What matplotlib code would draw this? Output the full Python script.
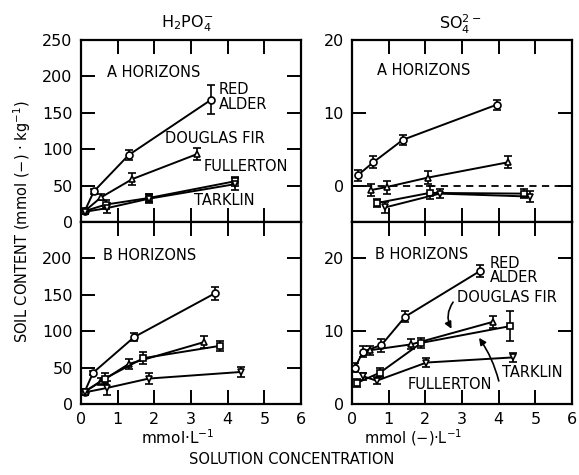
import matplotlib
matplotlib.use("Agg")
import matplotlib.pyplot as plt

# ---------------- data ----------------
series_names = ["RED ALDER", "DOUGLAS FIR", "FULLERTON", "TARKLIN"]
series_markers = ["o", "^", "s", "v"]

# H2PO4-, A horizons
pA_alder_x = [0.1, 0.35, 1.3, 3.55]
pA_alder_y = [15, 42, 92, 168]
pA_alder_e = [3, 3, 7, 20]
pA_fir_x = [0.1, 0.55, 1.4, 3.15]
pA_fir_y = [15, 34, 59, 93]
pA_fir_e = [3, 4, 8, 8]
pA_full_x = [0.1, 0.68, 1.85, 4.2]
pA_full_y = [15, 24, 33, 56]
pA_full_e = [3, 6, 6, 6]
pA_tark_x = [0.1, 0.7, 1.85, 4.2]
pA_tark_y = [14, 19, 32, 52]
pA_tark_e = [3, 7, 6, 8]

# H2PO4-, B horizons
pB_alder_x = [0.1, 0.33, 1.45, 3.65]
pB_alder_y = [17, 43, 92, 152]
pB_alder_e = [3, 3, 6, 9]
pB_fir_x = [0.1, 0.55, 1.3, 3.35]
pB_fir_y = [17, 31, 55, 85]
pB_fir_e = [3, 5, 7, 8]
pB_full_x = [0.1, 0.65, 1.7, 3.8]
pB_full_y = [17, 35, 63, 80]
pB_full_e = [3, 7, 8, 7]
pB_tark_x = [0.1, 0.7, 1.85, 4.35]
pB_tark_y = [16, 22, 35, 44]
pB_tark_e = [3, 10, 7, 7]

# SO4 2-, A horizons
sA_alder_x = [0.15, 0.58, 1.39, 3.94]
sA_alder_y = [1.4, 3.2, 6.3, 11.1]
sA_alder_e = [0.8, 0.8, 0.7, 0.7]
sA_fir_x = [0.53, 0.94, 2.07, 4.25]
sA_fir_y = [-0.6, -0.2, 1.1, 3.2]
sA_fir_e = [0.8, 0.9, 0.9, 0.8]
sA_full_x = [0.67, 2.12, 4.7]
sA_full_y = [-2.4, -1.0, -1.1]
sA_full_e = [0.6, 0.9, 0.6]
sA_tark_x = [0.9, 2.39, 4.84]
sA_tark_y = [-3.0, -1.1, -1.5]
sA_tark_e = [0.8, 0.6, 0.7]

# SO4 2-, B horizons
sB_alder_x = [0.08, 0.3, 0.8, 1.45, 3.5]
sB_alder_y = [5.0, 7.2, 8.1, 12.0, 18.3]
sB_alder_e = [0.6, 0.8, 0.9, 0.8, 0.8]
sB_fir_x = [0.5, 1.62, 3.85]
sB_fir_y = [7.4, 8.2, 11.3]
sB_fir_e = [0.6, 0.7, 0.8]
sB_full_x = [0.13, 0.76, 1.89, 4.31]
sB_full_y = [2.9, 4.3, 8.4, 10.7]
sB_full_e = [0.5, 0.6, 0.7, 2.1]
sB_tark_x = [0.31, 0.67, 2.03, 4.38]
sB_tark_y = [3.8, 3.2, 5.7, 6.4]
sB_tark_e = [0.5, 0.5, 0.6, 0.6]

x_ticks = [0, 1, 2, 3, 4, 5, 6]
p_ticks = [0, 50, 100, 150, 200, 250]
s_ticks = [0, 10, 20]

# ---------------- figure ----------------
plt.rcParams["font.family"] = ["DejaVu Sans"]
fig = plt.figure(figsize=(5.79, 4.75), dpi=100)

W = 0.38
H = 0.3832
ax_pA = fig.add_axes([0.1399, 0.5326, W, H])
ax_pB = fig.add_axes([0.1399, 0.1494, W, H])
ax_sA = fig.add_axes([0.6080, 0.5326, W, H])
ax_sB = fig.add_axes([0.6080, 0.1494, W, H])

def style(ax, yticks, ylim, xlabels, ylabels_shown):
    ax.set_xlim(0, 6)
    ax.set_ylim(*ylim)
    ax.set_xticks(x_ticks)
    ax.set_yticks(yticks)
    ax.tick_params(direction="in", length=10, width=1.4, top=True, right=True,
                   labelsize=11.5, pad=6)
    if not xlabels:
        ax.set_xticklabels([])
    ax.set_yticklabels([str(t) if t in ylabels_shown else "" for t in yticks])
    for s in ax.spines.values():
        s.set_linewidth(1.6)

def draw(ax, xs, ys, es, m):
    ax.errorbar(xs, ys, yerr=es, fmt="-", marker=m, color="black", mfc="white",
                mec="black", ms=5, mew=1.2, lw=1.4, elinewidth=1.2,
                capsize=3, capthick=1.3, zorder=3)

panels = {
    ax_pA: [(pA_alder_x, pA_alder_y, pA_alder_e), (pA_fir_x, pA_fir_y, pA_fir_e),
            (pA_full_x, pA_full_y, pA_full_e), (pA_tark_x, pA_tark_y, pA_tark_e)],
    ax_pB: [(pB_alder_x, pB_alder_y, pB_alder_e), (pB_fir_x, pB_fir_y, pB_fir_e),
            (pB_full_x, pB_full_y, pB_full_e), (pB_tark_x, pB_tark_y, pB_tark_e)],
    ax_sA: [(sA_alder_x, sA_alder_y, sA_alder_e), (sA_fir_x, sA_fir_y, sA_fir_e),
            (sA_full_x, sA_full_y, sA_full_e), (sA_tark_x, sA_tark_y, sA_tark_e)],
    ax_sB: [(sB_alder_x, sB_alder_y, sB_alder_e), (sB_fir_x, sB_fir_y, sB_fir_e),
            (sB_full_x, sB_full_y, sB_full_e), (sB_tark_x, sB_tark_y, sB_tark_e)],
}
for ax, lst in panels.items():
    for (xs, ys, es), m in zip(lst, series_markers):
        draw(ax, xs, ys, es, m)

style(ax_pA, p_ticks, (0, 250), False, [0, 50, 100, 150, 200, 250])
style(ax_pB, p_ticks, (0, 250), True, [0, 50, 100, 150, 200])
style(ax_sA, s_ticks, (-5, 20), False, [0, 10, 20])
style(ax_sB, s_ticks, (0, 25), True, [0, 10, 20])

ax_sA.plot([0.35, 6], [0, 0], ls=(0, (4, 3)), color="black", lw=1.3, zorder=2)

tf = dict(fontsize=10.5, va="center", ha="left")
# H2PO4 A
ax_pA.text(0.7, 205, "A HORIZONS", **tf)
ax_pA.text(3.75, 182, "RED", **tf)
ax_pA.text(3.75, 162, "ALDER", **tf)
ax_pA.text(2.3, 115, "DOUGLAS FIR", **tf)
ax_pA.text(3.34, 76, "FULLERTON", **tf)
ax_pA.text(3.07, 30, "TARKLIN", **tf)
# H2PO4 B
ax_pB.text(0.6, 204, "B HORIZONS", **tf)
# SO4 A
ax_sA.text(0.68, 15.8, "A HORIZONS", **tf)
# SO4 B
ax_sB.text(0.63, 20.5, "B HORIZONS", **tf)
ax_sB.text(3.75, 19.3, "RED", **tf)
ax_sB.text(3.75, 17.4, "ALDER", **tf)
ax_sB.text(2.85, 14.7, "DOUGLAS FIR", **tf)
ax_sB.text(4.1, 4.3, "TARKLIN", **tf)
ax_sB.text(1.52, 2.7, "FULLERTON", **tf)
ax_sB.annotate("", xy=(2.75, 10.0), xytext=(2.8, 14.3),
               arrowprops=dict(arrowstyle="-|>", color="black", lw=1.2,
                               connectionstyle="arc3,rad=0.35", mutation_scale=10))
ax_sB.annotate("", xy=(3.42, 9.4), xytext=(4.02, 2.8),
               arrowprops=dict(arrowstyle="-|>", color="black", lw=1.2,
                               connectionstyle="arc3,rad=0.1", mutation_scale=10))

# titles and labels
fig.text(187 / 579, 1 - 24 / 475, r"H$_2$PO$_4^{-}$", ha="center", va="center", fontsize=11.5)
fig.text(460 / 579, 1 - 24 / 475, r"SO$_4^{2-}$", ha="center", va="center", fontsize=11.5)
fig.text(22 / 579, 1 - 222 / 475, r"SOIL CONTENT (mmol (−) · kg$^{-1}$)", rotation=90,
         ha="center", va="center", fontsize=10.5)
fig.text(178 / 579, 1 - 438 / 475, r"mmol·L$^{-1}$", ha="center", va="center", fontsize=11)
fig.text(413 / 579, 1 - 438 / 475, r"mmol (−)·L$^{-1}$", ha="center", va="center", fontsize=10.5)
fig.text(292 / 579, 1 - 459 / 475, "SOLUTION CONCENTRATION", ha="center", va="center",
         fontsize=10.5)

fig.savefig("out.png", dpi=100)
